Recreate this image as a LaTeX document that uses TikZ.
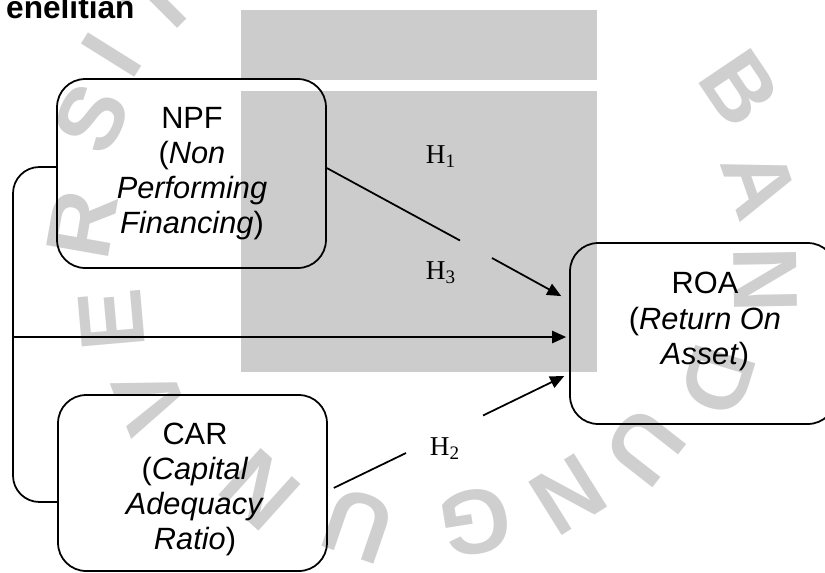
\documentclass[tikz,border=0pt]{standalone}
\usepackage{fontspec}
\setmainfont{Liberation Sans}
\newfontfamily\serifh{Liberation Serif}
\usetikzlibrary{arrows.meta,positioning}

\begin{document}
\begin{tikzpicture}[x=0.02cm,y=-0.02cm,
	varbox/.style={draw,line width=1pt,rounded corners=16pt,inner sep=0pt},
	vartext/.style={align=center,font=\fontsize{17.5}{20}\selectfont},
	hyp/.style={font=\serifh\fontsize{15.5}{18}\selectfont},
	wmletter/.style={text=black!19,font=\bfseries\fontsize{52}{52}\selectfont},
	link/.style={line width=1pt},
	arr/.style={link,-{Triangle[length=8pt,width=7pt]}}]
	\useasboundingbox (0,0) rectangle (825,572);
	% watermark
	\fill[black!20] (241,10) rectangle (597,80);
	\fill[black!20] (241,91) rectangle (597,372);
	\node[wmletter,rotate=45] (wmT) at (160,2) {T};
	\node[wmletter,rotate=58] (wmI) at (112,55) {I};
	\node[wmletter,rotate=64] (wmS) at (92,118) {S};
	\node[wmletter,rotate=80] (wmR) at (82,225) {R};
	\node[wmletter,rotate=95] (wmE) at (112,320) {E};
	\node[wmletter,rotate=111] (wmV) at (150,400) {V};
	\node[wmletter,rotate=138] (wmN) at (260,490) {N};
	\node[wmletter,rotate=161] (wmU) at (358,525) {U};
	\node[wmletter,rotate=-171] (wmG) at (475,522) {G};
	\node[wmletter,rotate=-148] (wmNb) at (568,495) {N};
	\node[wmletter,rotate=-128] (wmUb) at (645,447) {U};
	\node[wmletter,rotate=-107] (wmD) at (718,380) {D};
	\node[wmletter,rotate=-89] (wmNc) at (765,280) {N};
	\node[wmletter,rotate=-71] (wmA) at (760,183) {A};
	\node[wmletter,rotate=-56] (wmB) at (740,88) {B};
	% diagram
	\node[anchor=base west,font=\bfseries\fontsize{18}{20}\selectfont] (title) at (0,18) {enelitian};
	\node[varbox,minimum width=5.38cm,minimum height=3.78cm] (npf) at (191.5,173.5) {};
	\node[varbox,minimum width=5.32cm,minimum height=3.62cm] (roa) at (703,333.5) {};
	\node[varbox,minimum width=5.38cm,minimum height=3.52cm] (car) at (192.5,483) {};
	\node[vartext] (npftext) at (192,173.5) {NPF\\(\textit{Non}\\\textit{Performing}\\\textit{Financing})};
	\node[vartext] (roatext) at (705,321.5) {ROA\\(\textit{Return On}\\\textit{Asset})};
	\node[vartext] (cartext) at (195,489.5) {CAR\\(\textit{Capital}\\\textit{Adequacy}\\\textit{Ratio})};
	\node[hyp] (h1) at (441,157) {H\textsubscript{1}};
	\node[hyp] (h3) at (441,273) {H\textsubscript{3}};
	\node[hyp] (h2) at (445,449) {H\textsubscript{2}};
	\coordinate (g1) at (460,240.5);
	\coordinate (g2) at (492,258);
	\coordinate (g3) at (406,453);
	\coordinate (g4) at (483,415.5);
	\coordinate (split) at (13,337);
	\draw[link,rounded corners=15pt] ([yshift=3.7pt]npf.west) -| (split) |- ([yshift=-10.8pt]car.west);
	\draw[arr] (split) -- ([xshift=-1.7pt,yshift=-2pt]roa.west);
	\draw[link] ([yshift=3.1pt]npf.east) -- (g1);
	\draw[arr] (g2) -- ([xshift=-4.5pt,yshift=21.3pt]roa.west);
	\draw[link] ([xshift=3.4pt,yshift=-2.8pt]car.east) -- (g3);
	\draw[arr] (g4) -- ([xshift=-2.8pt,yshift=-24.2pt]roa.west);
\end{tikzpicture}
\end{document}
